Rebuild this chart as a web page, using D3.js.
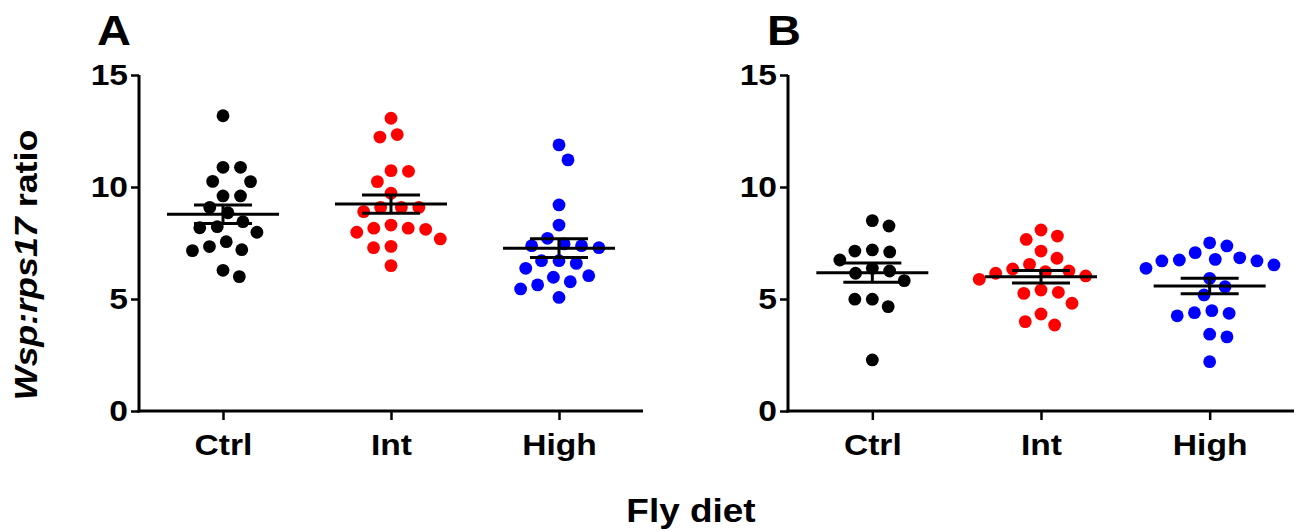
<!DOCTYPE html>
<html><head><meta charset="utf-8">
<script src="https://cdn.jsdelivr.net/npm/d3@7"></script>
<style>
html,body{margin:0;padding:0;background:#fff;}
svg{display:block;}
text{font-family:"Liberation Sans",Arial,sans-serif;font-weight:bold;fill:#000;}
</style></head>
<body>
<svg id="chart" width="1296" height="532"></svg>
<script>
// ---- data ----
const categories = ["Ctrl", "Int", "High"];
const colors = ["#000000", "#ff0000", "#0000ff"];
const yTicks = [0, 5, 10, 15];
const panelLabels = ["A", "B"];

const panelA_Ctrl = [13.18,10.88,10.88,10.25,10.24,9.60,9.60,9.09,8.85,8.45,8.18,8.23,7.98,7.56,7.20,7.16,7.34,6.00,6.28];
const panelA_Int  = [13.07,12.23,12.34,10.70,10.73,10.24,9.72,9.09,8.90,9.09,9.09,8.30,8.16,7.98,8.11,8.16,7.68,7.35,7.29,6.49];
const panelA_High = [11.88,11.21,9.20,8.30,7.71,7.46,7.38,7.29,7.38,6.71,6.37,6.59,6.71,5.97,5.63,6.04,5.45,5.77,5.07];

const panelB_Ctrl = [8.50,8.26,7.19,7.10,7.14,6.74,6.25,6.37,6.15,5.82,4.99,4.99,4.66,2.28];
const panelB_Int  = [8.08,7.81,7.66,7.14,6.82,6.55,6.34,6.22,6.25,6.03,5.88,6.15,5.40,5.25,5.30,4.81,4.33,3.84,3.99];
const panelB_High = [7.51,7.37,6.84,6.74,6.70,6.70,6.77,7.07,6.37,6.52,5.92,5.55,5.18,4.39,4.25,4.36,4.48,3.43,3.31,2.20];

const panels = [
  {label: panelLabels[0], groups: [panelA_Ctrl, panelA_Int, panelA_High], x0: 139, x1: 643, lx: 97},
  {label: panelLabels[1], groups: [panelB_Ctrl, panelB_Int, panelB_High], x0: 788, x1: 1294, lx: 767}
];

const svg = d3.select("#chart");
const yTop = 75, yBot = 411;
const y = d3.scaleLinear().domain([0, 15]).range([yBot, yTop]);
const SX = 1.12;
const R = 6.4;

function stretch(sel) {
  sel.each(function() {
    const t = d3.select(this);
    const x = +t.attr("x") || 0, yy = +t.attr("y") || 0;
    t.attr("x", 0).attr("y", 0).attr("transform", `translate(${x},${yy}) scale(${SX},1)`);
  });
}

// continuous beeswarm: each point goes to the free x nearest the category centre
function beeswarm(vals, cx) {
  const minD = 17.5;
  const order = vals.map((v, i) => i).sort((a, b) => vals[b] - vals[a]);
  const placed = [];
  const out = new Array(vals.length);
  let pref = 1;
  order.forEach(i => {
    const py = y(vals[i]);
    const blocks = [];
    placed.forEach(p => {
      const dy = Math.abs(p[1] - py);
      if (dy < minD) {
        const w = Math.sqrt(minD * minD - dy * dy);
        blocks.push([p[0] - w, p[0] + w]);
      }
    });
    const free = x => blocks.every(b => x <= b[0] + 1e-6 || x >= b[1] - 1e-6);
    const cands = [cx];
    blocks.forEach(b => { cands.push(b[0], b[1]); });
    const good = cands.filter(free);
    good.sort((a, b) => {
      const da = Math.abs(a - cx), db = Math.abs(b - cx);
      if (Math.abs(da - db) > 0.5) return da - db;
      return pref * (b - a);
    });
    const px = good[0];
    if (Math.abs(px - cx) > 0.5) pref = px > cx ? -1 : 1;
    placed.push([px, py]);
    out[i] = [px, py];
  });
  return out;
}

panels.forEach(p => {
  const x = d3.scalePoint().domain(categories).range([p.x0, p.x1]).padding(0.5);
  const g = svg.append("g");

  // y axis
  const ya = g.append("g").attr("transform", `translate(${p.x0},0)`)
    .call(d3.axisLeft(y).tickValues(yTicks).tickSize(8).tickSizeOuter(0).tickPadding(3).tickFormat(d3.format("d")));
  ya.select(".domain").attr("stroke", "#000").attr("stroke-width", 3).attr("d", `M0,${yTop}V${yBot + 1.5}`);
  ya.selectAll(".tick line").attr("stroke", "#000").attr("stroke-width", 2.5);
  ya.selectAll(".tick text").attr("font-size", 30).attr("font-family", null).call(stretch);

  // x axis
  const xa = g.append("g").attr("transform", `translate(0,${yBot})`)
    .call(d3.axisBottom(x).tickSize(9).tickSizeOuter(0).tickPadding(14));
  xa.select(".domain").attr("stroke", "#000").attr("stroke-width", 3).attr("d", `M${p.x0 - 1.5},0H${p.x1}`);
  xa.selectAll(".tick line").attr("stroke", "#000").attr("stroke-width", 2.5);
  xa.selectAll(".tick text").attr("font-size", 30).attr("font-family", null).call(stretch);

  // panel letter
  svg.append("text").attr("x", p.lx).attr("y", 45).attr("font-size", 42).text(p.label).call(stretch);

  // dots + mean/SEM
  p.groups.forEach((vals, gi) => {
    const cx = x(categories[gi]);
    const pos = beeswarm(vals, cx);
    g.append("g").selectAll("circle").data(vals).join("circle")
      .attr("cx", (d, i) => pos[i][0]).attr("cy", (d, i) => pos[i][1])
      .attr("r", R).attr("fill", colors[gi]);
    const m = d3.mean(vals);
    const sem = d3.deviation(vals) / Math.sqrt(vals.length);
    const eg = g.append("g").attr("stroke", "#000").attr("stroke-width", 3);
    eg.append("line").attr("x1", cx - 56).attr("x2", cx + 56).attr("y1", y(m)).attr("y2", y(m));
    eg.append("line").attr("x1", cx - 29).attr("x2", cx + 29).attr("y1", y(m + sem)).attr("y2", y(m + sem));
    eg.append("line").attr("x1", cx - 29).attr("x2", cx + 29).attr("y1", y(m - sem)).attr("y2", y(m - sem));
    eg.append("line").attr("x1", cx).attr("x2", cx).attr("y1", y(m + sem)).attr("y2", y(m - sem));
  });
});

// y-axis title
const yt = svg.append("text").attr("text-anchor", "middle").attr("font-size", 32)
  .attr("transform", `translate(37,265) rotate(-90) scale(${SX},1)`);
yt.append("tspan").attr("font-style", "italic").text("Wsp:rps17");
yt.append("tspan").text(" ratio");

// x-axis title
svg.append("text").attr("text-anchor", "middle").attr("font-size", 33)
  .attr("transform", `translate(691,522) scale(${SX},1)`).text("Fly diet");
</script>
</body></html>
